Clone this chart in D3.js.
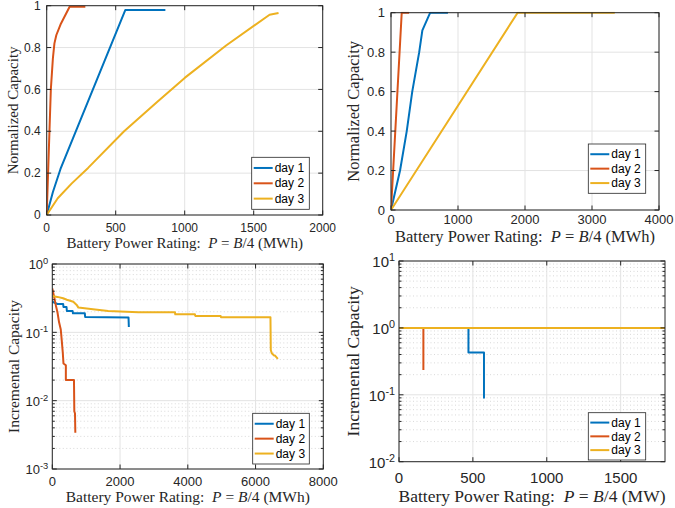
<!DOCTYPE html>
<html>
<head>
<meta charset="utf-8">
<script src="https://cdn.jsdelivr.net/npm/d3@7"></script>
<style>
body { margin: 0; background: #fff; }
.lbl { font-family: "Liberation Serif", "DejaVu Serif", serif; }
</style>
</head>
<body>
<script>
// legend entries and series colours
var days = ["day 1", "day 2", "day 3"];
var colors = ["#0072BD", "#D95319", "#EDB120"];

// top-left: normalized capacity
var a1x = [0, 45, 100, 570, 860];
var a1y = [0, 0.11, 0.22, 0.98, 0.98];
var a2x = [0, 10, 20, 30, 45, 56, 70, 100, 166, 280];
var a2y = [0, 0.2, 0.4, 0.6, 0.75, 0.82, 0.86, 0.91, 0.995, 0.995];
var a3x = [0, 80, 180, 300, 561, 800, 1000, 1300, 1615, 1680];
var a3y = [0, 0.08, 0.15, 0.225, 0.4, 0.54, 0.655, 0.81, 0.957, 0.965];

// top-right: normalized capacity
var b1x = [0, 135, 235, 317, 421, 468, 585, 850];
var b1y = [0, 0.2, 0.4, 0.6, 0.8, 0.91, 1, 1];
var b2x = [0, 160, 270];
var b2y = [0, 1, 1];
var b3x = [0, 1890, 3340];
var b3y = [0, 1, 1];

// bottom-left: incremental capacity (log)
var c1x = [0, 150, 320, 330, 420, 430, 600, 610, 960, 970, 2250, 2260];
var c1y = [0.28, 0.26, 0.26, 0.235, 0.235, 0.205, 0.205, 0.19, 0.19, 0.168, 0.165, 0.12];
var c2x = [0, 60, 110, 150, 200, 250, 280, 310, 330, 400, 400, 640, 650, 670, 680];
var c2y = [0.44, 0.32, 0.24, 0.2, 0.14, 0.11, 0.075, 0.05, 0.035, 0.033, 0.02, 0.02, 0.007, 0.0065, 0.0034];
var c3x = [0, 150, 320, 430, 620, 720, 770, 1200, 1650, 2540, 3620, 3630, 4210, 4220, 4970, 4980, 6440, 6450, 6480, 6540, 6570, 6658];
var c3y = [0.34, 0.33, 0.315, 0.3, 0.28, 0.252, 0.23, 0.218, 0.205, 0.197, 0.197, 0.184, 0.184, 0.174, 0.174, 0.166, 0.166, 0.055, 0.0495, 0.046, 0.046, 0.041];

// bottom-right: incremental capacity (log)
var d1x = [0, 470, 470, 575, 575];
var d1y = [1, 1, 0.43, 0.43, 0.088];
var d2x = [0, 165, 165];
var d2y = [1, 1, 0.235];
var d3x = [0, 1800];
var d3y = [1, 1];

// ticks
var ticksA = [0, 500, 1000, 1500, 2000];
var ticksB = [0, 1000, 2000, 3000, 4000];
var ticksC = [0, 2000, 4000, 6000, 8000];
var ticksD = [0, 500, 1000, 1500];
var normTicks = [0, 0.2, 0.4, 0.6, 0.8, 1];
var expC = [0, -1, -2, -3];
var expD = [1, 0, -1, -2];

function zip(xs, ys) {
    return xs.map(function (x, i) { return [x, ys[i]]; });
}

var svg = d3.select("body").append("svg")
    .attr("width", 675)
    .attr("height", 508)
    .style("font-family", "'Liberation Sans', Arial, sans-serif");

var axisColor = "#262626";

var drawPanel = function (p) {
    var x = d3.scaleLinear().domain(p.xDomain).range([p.l, p.r]);
    var y = (p.log ? d3.scaleLog() : d3.scaleLinear()).domain(p.yDomain).range([p.b, p.t]);
    var g = svg.append("g");

    // minor log grid
    var minor = [];
    if (p.log) {
        var e0 = Math.round(Math.log10(p.yDomain[0])), e1 = Math.round(Math.log10(p.yDomain[1]));
        for (var e = e0; e < e1; e++) {
            for (var k = 2; k <= 9; k++) minor.push(k * Math.pow(10, e));
        }
        g.selectAll(".mg").data(minor).enter().append("line")
            .attr("x1", p.l).attr("x2", p.r)
            .attr("y1", function (d) { return y(d); })
            .attr("y2", function (d) { return y(d); })
            .attr("stroke", "#cfcfcf")
            .attr("stroke-width", 0.8)
            .attr("stroke-dasharray", "1,2.5");
    }

    var yTickVals = p.log ? p.exps.map(function (e) { return Math.pow(10, e); }) : p.yTicks;

    // major grid
    g.selectAll(".gx").data(p.xTicks).enter().append("line")
        .attr("x1", function (d) { return x(d); }).attr("x2", function (d) { return x(d); })
        .attr("y1", p.t).attr("y2", p.b)
        .attr("stroke", "#e3e3e3").attr("stroke-width", 1);
    g.selectAll(".gy").data(yTickVals).enter().append("line")
        .attr("x1", p.l).attr("x2", p.r)
        .attr("y1", function (d) { return y(d); }).attr("y2", function (d) { return y(d); })
        .attr("stroke", "#e3e3e3").attr("stroke-width", 1);

    // lines
    var clipId = "clip" + p.id;
    svg.append("clipPath").attr("id", clipId).append("rect")
        .attr("x", p.l).attr("y", p.t - 1).attr("width", p.r - p.l).attr("height", p.b - p.t + 2);
    var line = d3.line()
        .x(function (d) { return x(d[0]); })
        .y(function (d) { return y(d[1]); });
    g.append("g").attr("clip-path", "url(#" + clipId + ")")
        .selectAll("path").data(p.series).enter().append("path")
        .attr("d", line)
        .attr("fill", "none")
        .attr("stroke", function (d, i) { return colors[i]; })
        .attr("stroke-width", 2)
        .attr("stroke-linejoin", "round");

    // axes box
    g.append("rect")
        .attr("x", p.l).attr("y", p.t)
        .attr("width", p.r - p.l).attr("height", p.b - p.t)
        .attr("fill", "none").attr("stroke", axisColor).attr("stroke-width", 1);

    // ticks (inside, all four sides)
    var tl = 4.5;
    p.xTicks.forEach(function (d) {
        g.append("line").attr("x1", x(d)).attr("x2", x(d)).attr("y1", p.b).attr("y2", p.b - tl).attr("stroke", axisColor);
        g.append("line").attr("x1", x(d)).attr("x2", x(d)).attr("y1", p.t).attr("y2", p.t + tl).attr("stroke", axisColor);
    });
    yTickVals.forEach(function (d) {
        g.append("line").attr("x1", p.l).attr("x2", p.l + tl).attr("y1", y(d)).attr("y2", y(d)).attr("stroke", axisColor);
        g.append("line").attr("x1", p.r).attr("x2", p.r - tl).attr("y1", y(d)).attr("y2", y(d)).attr("stroke", axisColor);
    });
    minor.forEach(function (d) {
        g.append("line").attr("x1", p.l).attr("x2", p.l + 2.5).attr("y1", y(d)).attr("y2", y(d)).attr("stroke", axisColor);
        g.append("line").attr("x1", p.r).attr("x2", p.r - 2.5).attr("y1", y(d)).attr("y2", y(d)).attr("stroke", axisColor);
    });

    // tick labels
    g.selectAll(".xt").data(p.xTicks).enter().append("text")
        .attr("x", function (d) { return x(d); })
        .attr("y", p.xTickY)
        .attr("dy", "0.35em")
        .attr("text-anchor", "middle")
        .attr("font-size", p.tickFont)
        .attr("fill", axisColor)
        .text(function (d) { return d; });

    if (p.log) {
        p.exps.forEach(function (e) {
            var t = g.append("text")
                .attr("x", p.l - 4)
                .attr("y", y(Math.pow(10, e)))
                .attr("dy", "0.4em")
                .attr("text-anchor", "end")
                .attr("font-size", p.tickFont)
                .attr("fill", axisColor);
            t.append("tspan").text("10");
            t.append("tspan").attr("dy", "-0.55em").attr("font-size", p.tickFont * 0.72).text(e);
        });
    } else {
        g.selectAll(".yt").data(p.yTicks).enter().append("text")
            .attr("x", p.l - 6)
            .attr("y", function (d) { return y(d); })
            .attr("dy", "0.35em")
            .attr("text-anchor", "end")
            .attr("font-size", p.tickFont)
            .attr("fill", axisColor)
            .text(function (d) { return d; });
    }

    // axis labels (serif, LaTeX-like)
    var xl = g.append("text")
        .attr("class", "lbl")
        .attr("x", (p.l + p.r) / 2)
        .attr("y", p.xLabelY)
        .attr("dy", "0.35em")
        .attr("text-anchor", "middle")
        .attr("font-size", p.labelFont)
        .attr("fill", axisColor);
    xl.append("tspan").text("Battery Power Rating:\u2002");
    xl.append("tspan").attr("font-style", "italic").text("P");
    xl.append("tspan").text("\u2005=\u2005");
    xl.append("tspan").attr("font-style", "italic").text("B");
    xl.append("tspan").text("/4 (" + p.unit + ")");

    g.append("text")
        .attr("class", "lbl")
        .attr("transform", "translate(" + p.yLabelX + "," + ((p.t + p.b) / 2) + ") rotate(-90)")
        .attr("dy", "0.35em")
        .attr("text-anchor", "middle")
        .attr("font-size", p.labelFont)
        .attr("fill", axisColor)
        .text(p.yLabel);

    // legend
    var lg = g.append("g").attr("transform", "translate(" + p.leg[0] + "," + p.leg[1] + ")");
    lg.append("rect")
        .attr("width", p.leg[2]).attr("height", p.leg[3])
        .attr("fill", "#fff").attr("stroke", axisColor).attr("stroke-width", 0.8);
    var step = (p.leg[3] - 6) / 3;
    days.forEach(function (name, i) {
        var yy = 3 + step * (i + 0.5);
        lg.append("line")
            .attr("x1", 2).attr("x2", 21)
            .attr("y1", yy).attr("y2", yy)
            .attr("stroke", colors[i]).attr("stroke-width", 2);
        lg.append("text")
            .attr("x", 23).attr("y", yy)
            .attr("dy", "0.35em")
            .attr("font-size", 12)
            .attr("fill", "#000")
            .text(name);
    });
};

drawPanel({
    id: "a", l: 46.7, r: 322.7, t: 5.7, b: 215,
    xDomain: [0, 2000], yDomain: [0, 1], log: false,
    xTicks: ticksA, yTicks: normTicks,
    series: [zip(a1x, a1y), zip(a2x, a2y), zip(a3x, a3y)],
    tickFont: 12, labelFont: 15, xTickY: 228, xLabelY: 243, yLabelX: 13,
    yLabel: "Normalized Capacity", unit: "MWh",
    leg: [251.7, 157.3, 57.6, 52]
});

drawPanel({
    id: "b", l: 391, r: 659, t: 12.7, b: 210,
    xDomain: [0, 4000], yDomain: [0, 1], log: false,
    xTicks: ticksB, yTicks: normTicks,
    series: [zip(b1x, b1y), zip(b2x, b2y), zip(b3x, b3y)],
    tickFont: 13, labelFont: 16.5, xTickY: 219.5, xLabelY: 236.5, yLabelX: 353,
    yLabel: "Normalized Capacity", unit: "MWh",
    leg: [588.3, 144, 57.4, 49.3]
});

drawPanel({
    id: "c", l: 52.3, r: 323.3, t: 264, b: 469,
    xDomain: [0, 8000], yDomain: [0.001, 1], log: true,
    xTicks: ticksC, exps: expC,
    series: [zip(c1x, c1y), zip(c2x, c2y), zip(c3x, c3y)],
    tickFont: 13, labelFont: 15.5, xTickY: 481.7, xLabelY: 496.7, yLabelX: 13.3,
    yLabel: "Incremental Capacity", unit: "MWh",
    leg: [252.7, 413.3, 56.6, 50.7]
});

drawPanel({
    id: "d", l: 399, r: 665, t: 261, b: 461.7,
    xDomain: [0, 1800], yDomain: [0.01, 10], log: true,
    xTicks: ticksD, exps: expD,
    series: [zip(d1x, d1y), zip(d2x, d2y), zip(d3x, d3y)],
    tickFont: 15, labelFont: 17.5, xTickY: 477.5, xLabelY: 495.5, yLabelX: 353,
    yLabel: "Incremental Capacity", unit: "MW",
    leg: [588.3, 412.7, 57.4, 47.3]
});
</script>
</body>
</html>
